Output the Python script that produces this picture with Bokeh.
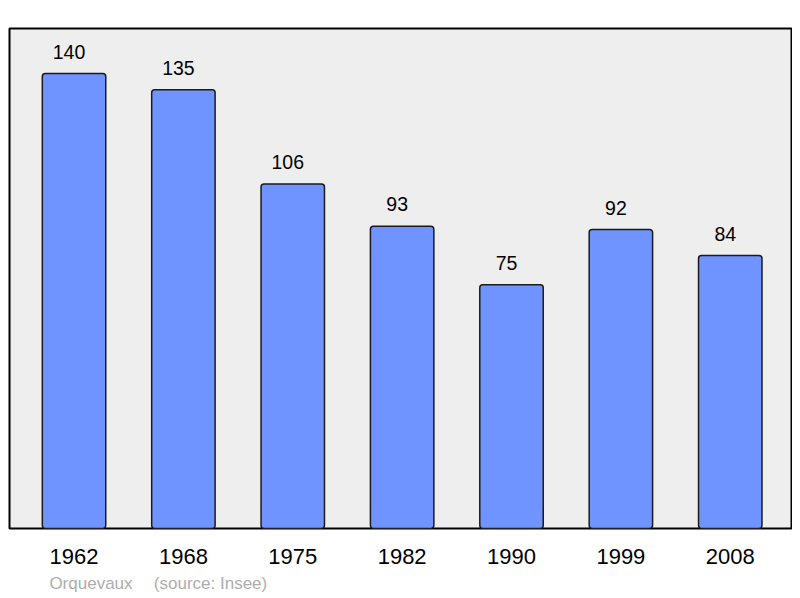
from bokeh.plotting import figure
from bokeh.models import Range1d, FixedTicker, LinearAxis, ColumnDataSource
from bokeh.embed import file_html
from bokeh.resources import INLINE
from bokeh.core.properties import value

years = ["1962", "1968", "1975", "1982", "1990", "1999", "2008"]
population = [140, 135, 106, 93, 75, 92, 84]
footer_texts = ["Orquevaux", "(source: Insee)"]
footer_pos = [0.155, 1.248]

idx = list(range(len(years)))
src = ColumnDataSource(dict(x=idx, top=population, lab=[str(v) for v in population]))

p = figure(width=792, height=598, output_backend="svg", toolbar_location=None,
           x_range=Range1d(-0.59, 6.56), y_range=Range1d(0, 153.85),
           min_border_left=9, min_border_right=1, min_border_top=28, min_border_bottom=70)
p.background_fill_color = "#EEEEEE"
p.border_fill_color = "white"
p.outline_line_color = "black"
p.outline_line_width = 2
p.xgrid.visible = False
p.ygrid.visible = False
p.yaxis.visible = False

p.vbar(x="x", top="top", bottom=0, width=0.58, source=src,
       fill_color="#7094FF", line_color="#1a1a1a", line_width=1.5, border_radius=3)

p.text(x="x", y="top", text="lab", source=src, x_offset=-5, y_offset=-22,
       text_align="center", text_baseline="alphabetic",
       text_font=value("Liberation Sans"), text_font_size="19.5px", text_color="black")

def style_axis(ax, size, color, standoff):
    ax.axis_line_color = None
    ax.major_tick_line_color = None
    ax.minor_tick_line_color = None
    ax.major_tick_out = 0
    ax.major_tick_in = 0
    ax.minor_tick_out = 0
    ax.minor_tick_in = 0
    ax.major_label_standoff = standoff
    ax.major_label_text_font = "Liberation Sans"
    ax.major_label_text_font_size = size
    ax.major_label_text_color = color

ax = p.xaxis[0]
ax.ticker = FixedTicker(ticks=idx)
ax.major_label_overrides = {i: y for i, y in zip(idx, years)}
style_axis(ax, "22px", "black", 20)

ax2 = LinearAxis(ticker=FixedTicker(ticks=footer_pos),
                 major_label_overrides={k: t for k, t in zip(footer_pos, footer_texts)})
style_axis(ax2, "17px", "#ADADAD", 7)
p.add_layout(ax2, "below")

open("out.html", "w").write(file_html(p, INLINE))
